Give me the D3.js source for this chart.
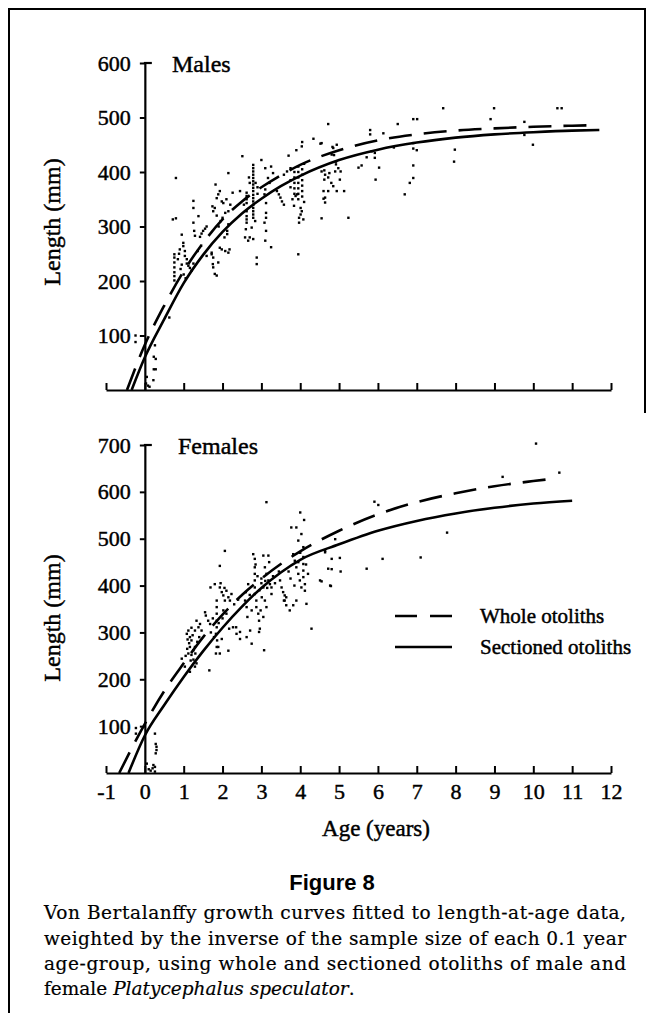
<!DOCTYPE html>
<html>
<head>
<meta charset="utf-8">
<script src="https://cdn.jsdelivr.net/npm/d3@7"></script>
<style>
  body { margin: 0; background: #fff; }
  svg { display: block; }
  .serif { font-family: "Liberation Serif", "Times New Roman", serif; fill: #000; stroke: #000; stroke-width: 0.45px; }
  .caption { font-family: "DejaVu Serif", serif; font-size: 18.5px; fill: #000; stroke: #000; stroke-width: 0.2px; }
</style>
</head>
<body>
<div id="chart"></div>
<script>
'use strict';

// tick labels
const ageTicks = [-1, 0, 1, 2, 3, 4, 5, 6, 7, 8, 9, 10, 11, 12];
const maleLengthTicks = [100, 200, 300, 400, 500, 600];
const femaleLengthTicks = [100, 200, 300, 400, 500, 600, 700];

// fitted curves: [age, length]
const maleWhole = [[-0.46, 0], [0, 83], [0.5, 155], [1, 218], [1.5, 270], [2, 313], [2.5, 346], [3, 372], [3.5, 394], [4, 413], [5, 440], [6, 458], [7, 469], [8, 476], [9, 480], [10, 483], [11, 485], [11.65, 486]];
const maleSectioned = [[-0.34, 0], [0, 60], [0.5, 130], [1, 196], [1.5, 248], [2, 290], [2.5, 324], [3, 351], [3.5, 374], [4, 393], [5, 422], [6, 441], [7, 454], [8, 463], [9, 469], [10, 473], [11, 476], [11.7, 477]];
const femaleWhole = [[-0.66, 0], [0, 105], [0.5, 175], [1, 234], [1.5, 290], [2, 338], [2.5, 380], [3, 415], [3.5, 446], [4, 473], [5, 517], [6, 552], [7, 578], [8, 597], [9, 612], [10, 623], [10.5, 628]];
const femaleSectioned = [[-0.42, 0], [0, 80], [0.5, 145], [1, 205], [1.5, 260], [2, 310], [2.5, 355], [3, 395], [3.5, 428], [4, 455], [5, 488], [6, 517], [7, 538], [8, 554], [9, 566], [10, 575], [11, 581]];

// length-at-age observations: [age, length]
const maleObs = [
  [-0.24, 100], [-0.24, 88],
  [0.26, 82], [0.23, 61], [0.28, 57], [0.23, 38], [0.28, 38], [0.22, 18], [0.05, 24], [0.08, 8], [0.12, 6], [0.03, 12],
  [0.63, 133],
  [0.8, 389], [0.72, 313], [0.8, 315], [0.76, 249], [0.76, 243], [0.76, 234], [0.76, 225], [0.76, 216], [0.76, 209], [0.76, 201],
  [0.9, 258], [0.99, 270], [0.99, 264], [1.03, 255], [1.03, 246], [1.08, 240], [1.08, 232], [1.12, 228], [1.16, 224], [1.2, 219], [1.25, 232], [0.95, 230], [0.92, 222], [1.0, 212], [1.05, 205], [0.85, 240], [0.88, 250], [0.95, 285],
  [1.25, 347], [1.25, 334], [1.25, 307], [1.27, 292], [1.29, 283], [1.38, 319], [1.42, 281], [1.46, 287], [1.5, 292], [1.55, 296], [1.59, 300], [1.59, 246], [1.72, 249], [1.76, 243], [1.36, 255], [1.45, 265],
  [1.74, 337], [1.76, 328], [1.8, 334], [1.85, 352], [1.89, 359], [1.93, 365], [1.98, 346], [2.02, 343], [2.07, 325], [2.0, 316], [1.82, 377], [1.72, 252], [1.75, 231], [1.76, 225], [1.8, 213], [1.85, 210], [1.89, 234], [1.93, 261], [1.98, 258], [2.07, 255], [2.15, 252], [2.18, 258], [2.12, 292], [2.15, 304], [2.12, 286], [2.15, 328], [2.2, 340], [2.15, 398], [2.26, 362], [1.9, 300], [1.95, 310], [2.05, 280], [1.85, 320], [2.1, 350],
  [2.45, 365], [2.51, 429], [2.62, 362], [2.62, 356], [2.62, 350], [2.62, 343], [2.62, 328], [2.62, 319], [2.62, 313], [2.62, 307], [2.6, 295], [2.58, 280], [2.66, 274], [2.7, 280], [2.79, 277], [2.75, 298], [2.84, 310], [2.88, 243], [2.88, 231], [2.55, 340], [2.7, 380], [2.68, 390],
  [2.79, 413], [2.79, 407], [2.79, 401], [2.79, 395], [2.79, 389], [2.79, 383], [2.79, 377], [2.79, 371], [2.79, 365], [2.79, 358], [2.79, 352], [2.79, 346], [2.79, 340], [2.79, 334], [2.79, 328], [2.79, 322], [2.79, 316], [2.85, 380], [2.9, 372], [2.9, 360],
  [3.0, 422], [3.1, 407], [3.25, 410], [3.3, 398], [3.17, 389], [3.21, 380], [3.1, 368], [3.08, 359], [3.12, 343], [3.12, 325], [3.12, 316], [3.08, 307], [3.12, 292], [3.1, 274], [3.25, 262], [3.4, 365], [3.45, 359], [3.49, 353], [3.53, 346], [3.58, 340], [3.58, 395], [3.66, 401], [3.75, 407], [3.8, 350], [3.84, 338], [3.88, 356], [3.92, 359], [3.97, 316], [3.97, 307], [4.01, 322], [4.01, 334],
  [3.85, 400], [3.85, 390], [3.85, 380], [3.85, 370], [3.85, 360], [3.95, 410], [3.95, 400], [3.95, 390], [3.95, 380], [3.95, 370], [3.95, 360], [3.95, 350], [4.05, 405], [4.05, 395], [4.05, 385], [4.05, 375], [4.05, 365], [4.05, 355], [4.1, 345], [4.1, 415], [3.75, 385], [3.75, 372],
  [3.95, 249], [4.04, 328], [4.08, 313], [4.05, 455], [4.04, 447], [3.9, 440], [3.7, 430],
  [4.34, 461], [4.52, 452], [4.6, 365], [4.6, 351], [4.62, 403], [4.62, 386], [4.75, 398], [4.8, 380], [4.83, 446], [4.87, 431], [4.92, 414],
  [4.72, 488], [4.55, 315], [5.24, 316], [4.64, 353], [4.64, 344], [4.72, 365], [4.85, 374], [4.94, 365], [5.13, 365], [5.02, 386], [5.04, 401], [4.98, 407], [4.9, 401], [4.92, 419], [4.85, 444], [4.94, 450], [4.81, 432], [4.64, 395], [4.72, 390], [4.55, 401], [4.55, 453],
  [5.92, 435], [5.92, 426], [6.03, 408], [5.94, 386], [5.5, 408], [5.58, 412], [5.71, 427], [5.84, 438], [6.14, 471], [5.8, 477], [5.8, 469],
  [6.51, 488], [6.91, 497], [7.01, 497], [7.68, 517], [8.99, 517], [10.62, 517], [10.73, 517], [8.9, 497], [9.77, 492], [9.77, 468], [9.99, 450], [7.98, 441], [7.96, 419],
  [6.91, 453], [6.91, 443], [7.0, 440], [6.91, 412], [6.91, 389], [6.82, 380], [6.69, 359], [6.41, 445]
];

const femaleObs = [
  [-0.23, 96], [-0.23, 84],
  [0.26, 84], [0.28, 62], [0.3, 56], [0.3, 49], [0.28, 42], [0.26, 13], [0.22, 17], [0.2, 10], [0.26, 3], [0.05, 20], [0.1, 8], [0.15, 5],
  [0.95, 244], [1.08, 297], [1.12, 304], [1.16, 290], [1.2, 283], [1.16, 269], [1.12, 255], [1.2, 252], [1.25, 242], [1.29, 227], [1.33, 234], [1.33, 325], [1.38, 311], [1.42, 318], [1.29, 304], [1.23, 294], [1.14, 277], [1.09, 265], [1.16, 216], [1.03, 227], [1.46, 304], [1.29, 269], [1.1, 285], [1.2, 310], [1.25, 262], [1.35, 280], [1.4, 290], [1.18, 240], [1.05, 250], [1.3, 255],
  [1.66, 219], [1.55, 343], [1.57, 336], [1.63, 325], [1.68, 318], [1.69, 396], [1.8, 403], [1.85, 368], [1.85, 354], [1.85, 340], [1.85, 325], [1.85, 311], [1.83, 297], [1.86, 283], [1.85, 269], [1.83, 255], [1.93, 442], [2.06, 474], [1.93, 396], [1.98, 386], [2.02, 379], [2.06, 368], [2.1, 389], [2.15, 375], [2.19, 368], [2.23, 382], [2.02, 347], [2.17, 308], [2.27, 311], [2.36, 297], [2.35, 311], [2.45, 286], [2.15, 261], [1.93, 255], [1.89, 269], [1.98, 286], [1.75, 330], [1.9, 320], [2.0, 330], [2.1, 340], [2.3, 360], [2.4, 370], [1.95, 405], [2.05, 395], [1.7, 300], [1.78, 290],
  [2.58, 368], [2.6, 386], [2.62, 354], [2.64, 333], [2.66, 403], [2.71, 304], [2.75, 347], [2.79, 467], [2.83, 457], [2.83, 439], [2.83, 425], [2.83, 411], [2.83, 396], [2.83, 382], [2.87, 368], [2.87, 354], [2.92, 340], [2.94, 325], [2.96, 308], [2.94, 301], [3.05, 464], [3.18, 464], [3.09, 439], [3.13, 425], [3.18, 411], [3.22, 403], [3.26, 396], [3.26, 382], [3.05, 396], [3.01, 375], [3.09, 368], [3.13, 354], [2.98, 347], [3.05, 333], [3.07, 262], [2.75, 276], [2.62, 290], [2.45, 301], [3.13, 578], [2.9, 420], [3.0, 415], [3.0, 405], [3.1, 410], [3.15, 395], [2.95, 390], [2.7, 380], [2.85, 445], [3.2, 450], [3.3, 420], [3.35, 405],
  [3.48, 411], [3.52, 396], [3.56, 386], [3.58, 368], [3.64, 375], [3.6, 379], [3.77, 524], [3.9, 524], [4.03, 510], [3.95, 496], [3.82, 467], [3.86, 453], [3.9, 439], [3.95, 425], [3.99, 411], [4.03, 396], [4.08, 482], [4.08, 461], [4.08, 446], [4.08, 432], [4.08, 418], [4.12, 403], [4.12, 389], [4.16, 361], [3.9, 368], [3.82, 358], [3.73, 347], [3.6, 368], [3.64, 358], [4.0, 556], [4.1, 540], [3.7, 430], [3.75, 415], [3.95, 450], [4.0, 470], [4.15, 445], [4.2, 425], [3.85, 400], [3.45, 430],
  [4.29, 308], [4.51, 411], [4.77, 400], [4.81, 435], [4.81, 457], [4.64, 471], [4.79, 399], [4.55, 409], [4.64, 474], [4.9, 499], [4.72, 436], [5.02, 459], [5.04, 430], [5.71, 436], [6.12, 457], [7.1, 460], [7.78, 513], [5.91, 579], [6.01, 572], [9.21, 632], [10.67, 641], [10.07, 703]
];

const legendLabels = ['Whole otoliths', 'Sectioned otoliths'];
const captionLines = [
  'Von Bertalanffy growth curves fitted to length-at-age data,',
  'weighted by the inverse of the sample size of each 0.1 year',
  'age-group, using whole and sectioned otoliths of male and'
];

const W = 648;
const H = 1013;
const dashes = '23,12';

const svg = d3.select('#chart')
  .append('svg')
  .attr('width', W)
  .attr('height', H)
  .attr('viewBox', `0 0 ${W} ${H}`);

// page frame
svg.append('path')
  .attr('d', 'M9,1013 V9 H645 V413')
  .attr('fill', 'none')
  .attr('stroke', '#000')
  .attr('stroke-width', 2);

const x = d3.scaleLinear().domain([-1, 12]).range([106, 611]);

const drawPanel = (opts) => {
  const y = opts.y;
  const g = svg.append('g');

  // x axis, ticks pointing up
  const xAxis = g.append('g')
    .attr('transform', `translate(0, ${y(0)})`)
    .call(d3.axisBottom(x)
      .tickValues(ageTicks)
      .tickSize(-7)
      .tickSizeOuter(0)
      .tickPadding(9)
      .tickFormat(opts.showAgeLabels ? (d => String(d)) : ''));
  xAxis.select('.domain').attr('stroke-width', 2.2);
  xAxis.selectAll('.tick line').attr('stroke-width', 2);
  xAxis.selectAll('.tick text')
    .attr('class', 'serif')
    .style('font-size', '22px')
    .attr('dy', '0.75em');

  // y axis at age 0
  const yAxis = g.append('g')
    .attr('transform', `translate(${x(0)}, 0)`)
    .call(d3.axisLeft(y)
      .tickValues(opts.ticks)
      .tickSize(5)
      .tickSizeOuter(0)
      .tickPadding(9));
  yAxis.select('.domain').attr('stroke-width', 2.2);
  yAxis.selectAll('.tick line').attr('stroke-width', 2);
  yAxis.selectAll('.tick text')
    .attr('class', 'serif')
    .style('font-size', '22px');
  const top = opts.ticks[opts.ticks.length - 1];
  yAxis.append('line')
    .attr('x1', -1).attr('x2', 7)
    .attr('y1', y(top)).attr('y2', y(top))
    .attr('stroke', '#000')
    .attr('stroke-width', 2.2);

  // observations
  g.append('g')
    .selectAll('rect')
    .data(opts.obs)
    .enter()
    .append('rect')
    .attr('x', d => x(d[0]) - 1.2)
    .attr('y', d => y(d[1]) - 1.2)
    .attr('width', 2.4)
    .attr('height', 2.4)
    .attr('fill', '#000');

  const line = d3.line()
    .x(d => x(d[0]))
    .y(d => y(d[1]))
    .curve(d3.curveMonotoneX);

  g.append('path')
    .datum(opts.whole)
    .attr('d', line)
    .attr('fill', 'none')
    .attr('stroke', '#000')
    .attr('stroke-width', 2.6)
    .attr('stroke-dasharray', dashes);

  g.append('path')
    .datum(opts.sectioned)
    .attr('d', line)
    .attr('fill', 'none')
    .attr('stroke', '#000')
    .attr('stroke-width', 2.6);

  g.append('text')
    .attr('class', 'serif')
    .attr('x', opts.titleX)
    .attr('y', y(top))
    .attr('dy', '0.38em')
    .style('font-size', '24px')
    .text(opts.title);

  g.append('text')
    .attr('class', 'serif')
    .attr('transform', `translate(52, ${opts.labelY}) rotate(-90)`)
    .attr('text-anchor', 'middle')
    .attr('dy', '0.35em')
    .style('font-size', '24px')
    .text('Length (mm)');
};

drawPanel({
  y: d3.scaleLinear().domain([0, 600]).range([390, 63]),
  ticks: maleLengthTicks,
  obs: maleObs,
  whole: maleWhole,
  sectioned: maleSectioned,
  title: 'Males',
  titleX: 172,
  labelY: 222,
  showAgeLabels: false
});

drawPanel({
  y: d3.scaleLinear().domain([0, 700]).range([773, 445]),
  ticks: femaleLengthTicks,
  obs: femaleObs,
  whole: femaleWhole,
  sectioned: femaleSectioned,
  title: 'Females',
  titleX: 178,
  labelY: 618,
  showAgeLabels: true
});

// legend
const legend = svg.append('g').attr('transform', 'translate(395, 616)');
legendLabels.forEach((label, i) => {
  const row = legend.append('g').attr('transform', `translate(0, ${i * 31})`);
  row.append('line')
    .attr('x1', 0).attr('x2', 57)
    .attr('stroke', '#000')
    .attr('stroke-width', 2.6)
    .attr('stroke-dasharray', i === 0 ? '22,13' : null);
  row.append('text')
    .attr('class', 'serif')
    .attr('x', 85)
    .attr('dy', '0.35em')
    .style('font-size', '21px')
    .text(label);
});

svg.append('text')
  .attr('class', 'serif')
  .attr('x', 376)
  .attr('y', 828)
  .attr('dy', '0.35em')
  .attr('text-anchor', 'middle')
  .style('font-size', '23px')
  .text('Age (years)');

svg.append('text')
  .attr('x', 332)
  .attr('y', 882)
  .attr('dy', '0.35em')
  .attr('text-anchor', 'middle')
  .style('font-family', '"Liberation Sans", Arial, sans-serif')
  .style('font-weight', 'bold')
  .style('font-size', '22px')
  .text('Figure 8');

captionLines.forEach((txt, i) => {
  svg.append('text')
    .attr('class', 'caption')
    .attr('x', 44)
    .attr('y', 913 + i * 25.3)
    .attr('dy', '0.35em')
    .attr('textLength', 582)
    .attr('lengthAdjust', 'spacing')
    .text(txt);
});

const last = svg.append('text')
  .attr('class', 'caption')
  .attr('x', 44)
  .attr('y', 913 + 3 * 25.3)
  .attr('dy', '0.35em');
last.append('tspan').text('female ');
last.append('tspan').style('font-style', 'italic').text('Platycephalus speculator');
last.append('tspan').text('.');
</script>
</body>
</html>
